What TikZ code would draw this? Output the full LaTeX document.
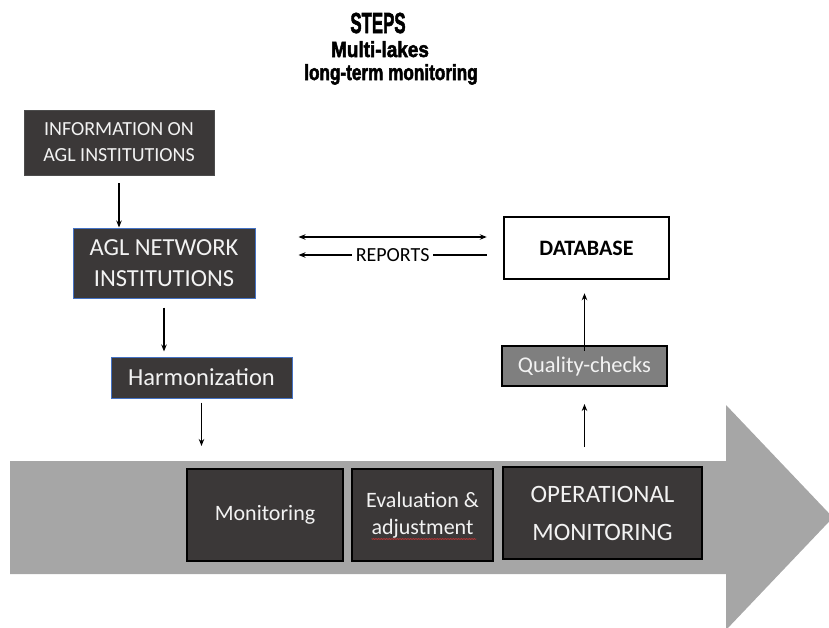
\documentclass[tikz,border=0pt]{standalone}
\usepackage{fontspec}
\setmainfont{Carlito}
\newfontfamily\headfont{Liberation Sans}[BoldFeatures={FakeBold=2.5}]
\usetikzlibrary{arrows.meta,decorations.pathmorphing}
\definecolor{boxdark}{HTML}{3B3838}
\definecolor{bandgray}{HTML}{A6A6A6}
\definecolor{checkgray}{HTML}{7F7F7F}
\definecolor{edgeblue}{HTML}{4472C4}
\begin{document}
\begin{tikzpicture}[x=1pt,y=-1pt,>={Stealth[length=7pt,width=5.5pt]},line width=1.2pt,
	darkbox/.style={fill=boxdark,text=white!95!black,align=center,inner sep=0pt},
	headline/.style={anchor=base,font=\headfont\bfseries}]
	\useasboundingbox (0,0) rectangle (829,627);
	% title
	\node[headline,font=\headfont\bfseries\fontsize{29}{30}\selectfont] (title) at (378,33) {\scalebox{0.58}[1]{STEPS}};
	\node[headline,font=\headfont\bfseries\fontsize{22}{24}\selectfont] (sub1) at (380,57) {\scalebox{0.86}[1]{Multi-lakes}};
	\node[headline,font=\headfont\bfseries\fontsize{22}{24}\selectfont] (sub2) at (391,80) {\scalebox{0.78}[1]{long-term monitoring}};
	% big grey arrow
	\fill[bandgray] (10,461) -- (726,461) -- (726,405) -- (833,517.5) -- (726,630) -- (726,574) -- (10,574) -- cycle;
	\coordinate (bandtop) at (10,461);
	% boxes
	\node[darkbox,draw=black!70,line width=0.8pt,minimum width=190pt,minimum height=65pt,font=\fontsize{20}{26}\selectfont] (info) at (119,142.5) {INFORMATION ON\\AGL INSTITUTIONS};
	\node[darkbox,draw=edgeblue,line width=1pt,minimum width=182pt,minimum height=70pt,font=\fontsize{24.5}{31}\selectfont] (agl) at (164,263) {AGL NETWORK\\INSTITUTIONS};
	\node[darkbox,draw=edgeblue,line width=1pt,minimum width=181pt,minimum height=41pt,font=\fontsize{24.5}{28}\selectfont] (harm) at (201.5,377.5) {Harmonization};
	\node[draw=black,line width=2.5pt,fill=white,minimum width=165pt,minimum height=62pt,font=\bfseries\fontsize{22}{24}\selectfont] (db) at (586.5,248) {DATABASE};
	\node[draw=black,line width=2pt,fill=checkgray,text=white!95!black,minimum width=165pt,minimum height=40pt,font=\fontsize{22.5}{25}\selectfont] (qc) at (584.5,366) {Quality-checks};
	\node[darkbox,draw=black,line width=2pt,minimum width=156pt,minimum height=92pt,font=\fontsize{22}{27}\selectfont] (mon) at (265,515) {Monitoring};
	\node[darkbox,draw=black,line width=2pt,minimum width=141pt,minimum height=92pt,font=\fontsize{22}{27}\selectfont] (eval) at (422.5,515) {Evaluation \&\\adjustment};
	\node[darkbox,draw=black,line width=2pt,minimum width=199pt,minimum height=92pt,font=\fontsize{25}{38}\selectfont] (oper) at (602.5,513) {OPERATIONAL\\MONITORING};
	% spell-check mark
	\draw[red!80!white,line width=0.4pt,decorate,decoration={snake,amplitude=0.4pt,segment length=1.6pt}] ([shift={(-51pt,23pt)}]eval.south) -- ++(105,0);
	% connectors
	\draw[->] ([yshift=-8pt]info.south) -- (info.south |- agl.north);
	\draw[->] ([yshift=-9pt]agl.south) -- ([yshift=5pt]agl.south |- harm.north);
	\draw[->] ([yshift=-4pt]harm.south) -- ([yshift=15pt]harm.south |- bandtop);
	\draw[->] ([yshift=19pt]qc.south |- oper.north) -- ([yshift=-17pt]qc.south);
	\draw[->] ([yshift=-6pt]qc.north) -- ([yshift=-13pt]qc.north |- db.south);
	\draw[<->] ([xshift=43pt,yshift=11pt]agl.east |- db.west) -- ([xshift=-16pt,yshift=11pt]db.west);
	\draw[->] ([xshift=-16pt,yshift=-7pt]db.west) -- node[fill=white,inner xsep=4pt,inner ysep=1pt,font=\fontsize{20}{22}\selectfont] (rep) {REPORTS} ([xshift=43pt,yshift=-7pt]agl.east |- db.west);
\end{tikzpicture}
\end{document}
